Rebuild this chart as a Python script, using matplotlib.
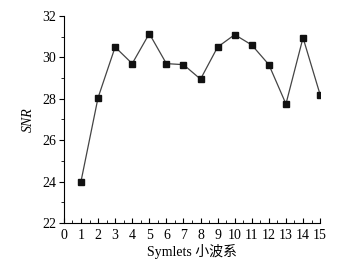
import matplotlib.pyplot as plt
from matplotlib.ticker import MultipleLocator

x = [1, 2, 3, 4, 5, 6, 7, 8, 9, 10, 11, 12, 13, 14, 15]
snr = [24.0, 28.05, 30.5, 29.7, 31.15, 29.7, 29.65, 28.95, 30.5, 31.1, 30.6, 29.65, 27.75, 30.95, 28.2]

plt.rcParams['font.family'] = ['Liberation Serif', 'Noto Sans CJK SC']
plt.rcParams['font.size'] = 10

fig = plt.figure(figsize=(3.51, 2.67), dpi=100)
ax = fig.add_axes([0.182, 0.165, 0.730, 0.775])

ax.plot(x, snr, color='#444444', lw=0.9, marker='s', ms=4,
        mfc='#111111', mec='#111111')

ax.set_xlim(0, 15)
ax.set_ylim(22, 32)
ax.xaxis.set_major_locator(MultipleLocator(1))
ax.xaxis.set_minor_locator(MultipleLocator(0.5))
ax.yaxis.set_major_locator(MultipleLocator(2))
ax.yaxis.set_minor_locator(MultipleLocator(1))
ax.tick_params(axis='x', which='both', direction='in', pad=4)
ax.tick_params(axis='x', which='major', length=3.5)
ax.tick_params(axis='x', which='minor', length=2)
ax.tick_params(axis='y', which='major', direction='out', length=3.5, pad=2)
ax.tick_params(axis='y', which='minor', direction='out', length=2)

for s in ['top', 'right']:
    ax.spines[s].set_visible(False)
for s in ['left', 'bottom']:
    ax.spines[s].set_linewidth(0.8)

ax.set_xlabel('Symlets 小波系', labelpad=2)
ax.set_ylabel('SNR', style='italic', labelpad=5)

fig.savefig('out.png', dpi=100)
